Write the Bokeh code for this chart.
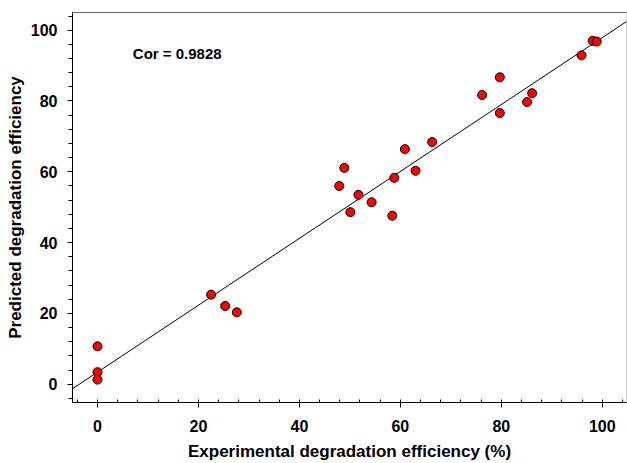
from bokeh.plotting import figure
from bokeh.models import SingleIntervalTicker, Span, Range1d, ColumnDataSource
from bokeh.embed import file_html
from bokeh.resources import INLINE
from bokeh.core.properties import value

# Data
experimental = [0, 0, 0, 22.5, 25.3, 27.6, 47.9, 48.9, 50.1, 51.7, 54.3, 58.4, 58.8,
                60.9, 63.0, 66.3, 76.2, 79.7, 79.7, 85.1, 86.1, 95.9, 98.1, 98.9]
predicted = [10.7, 3.4, 1.3, 25.3, 22.1, 20.3, 56.0, 61.1, 48.6, 53.5, 51.4, 47.6, 58.3,
             66.4, 60.3, 68.4, 81.7, 86.7, 76.6, 79.7, 82.2, 92.9, 97.0, 96.8]
fit_intercept = 3.4
fit_slope = 0.945
cor_label = "Cor = 0.9828"
x_title = "Experimental degradation efficiency (%)"
y_title = "Predicted degradation efficiency"

x_start, x_end = -4.95, 104.8
y_start, y_end = -5.17, 105.0

FONT = "Liberation Sans"

p = figure(width=627, height=463, output_backend="svg", toolbar_location=None,
           x_range=Range1d(x_start, x_end), y_range=Range1d(y_start, y_end),
           min_border_left=72, min_border_right=1, min_border_top=12, min_border_bottom=61)
p.grid.visible = False
p.outline_line_color = "#d0d0d0"
p.background_fill_color = "white"

# regression line
lx = [x_start - 10, x_end + 10]
ly = [fit_intercept + fit_slope * v for v in lx]
p.line(lx, ly, line_color="black", line_width=1)

src = ColumnDataSource(dict(x=experimental, y=predicted))
p.scatter("x", "y", source=src, size=9, fill_color="#ff0000", line_color="black", line_width=1)

p.text(x=[7.0], y=[93.5], text=[cor_label], text_font=value(FONT), text_font_size="15px",
       text_font_style="bold", text_baseline="middle", text_align="left", text_color="black")

top = Span(location=y_end, dimension="width", line_color="black", line_width=1)
p.add_layout(top)

xa = p.xaxis[0]
xa.ticker = SingleIntervalTicker(interval=20, num_minor_ticks=5)
xa.axis_label = x_title
xa.axis_line_color = "black"
xa.major_tick_out = 5
xa.major_tick_in = 0
xa.minor_tick_in = 3
xa.minor_tick_out = 0
xa.major_label_standoff = 12
xa.axis_label_standoff = 7

ya = p.yaxis[0]
ya.ticker = SingleIntervalTicker(interval=20, num_minor_ticks=5)
ya.axis_label = y_title
ya.axis_line_color = "black"
ya.major_tick_out = 5
ya.major_tick_in = 0
ya.minor_tick_out = 4
ya.minor_tick_in = 0
ya.major_label_standoff = 10
ya.axis_label_standoff = 3

for ax in (xa, ya):
    ax.major_label_text_font = FONT
    ax.major_label_text_font_size = "16px"
    ax.major_label_text_font_style = "bold"
    ax.major_label_text_color = "black"
    ax.axis_label_text_font = FONT
    ax.axis_label_text_font_size = "17px"
    ax.axis_label_text_font_style = "bold"
    ax.axis_label_text_color = "black"
    ax.major_tick_line_color = "black"
    ax.minor_tick_line_color = "black"

open("out.html", "w").write(file_html(p, INLINE))
